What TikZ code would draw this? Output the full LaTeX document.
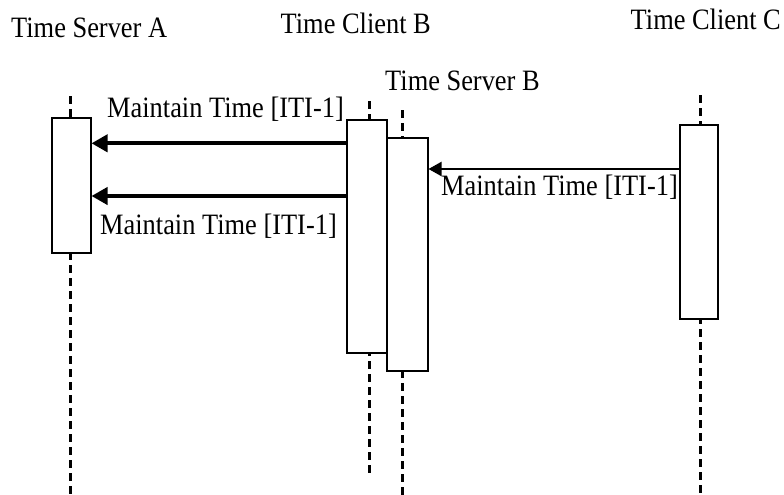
\documentclass[tikz,border=0pt]{standalone}
\usepackage{fontspec}
\setmainfont{Liberation Serif}
\usetikzlibrary{arrows.meta}
\newcommand{\lbltext}[1]{\scalebox{1}[1.12]{#1}}
\begin{document}
\begin{tikzpicture}[x=1pt,y=-1pt,
  lifeline/.style={line width=3pt,dash pattern=on 8pt off 5pt},
  actbox/.style={draw,line width=2pt,fill=white,inner sep=0pt,anchor=north west},
  lbl/.style={inner sep=0pt,anchor=base west,font=\fontsize{26.4}{30}\selectfont},
  thickmsg/.style={line width=3.8pt,-{Triangle[length=16pt,width=17pt]}},
  thinmsg/.style={line width=2pt,-{Triangle[length=13pt,width=14pt]}}]
\useasboundingbox (0,0) rectangle (784,495);
% titles
\node[lbl] (tsa) at (11,37.7) {\lbltext{Time Server A}};
\node[lbl] (tcb) at (280.5,33.3) {\lbltext{Time Client B}};
\node[lbl] (tsb) at (385,90) {\lbltext{Time Server B}};
\node[lbl] (tcc) at (630.5,29.3) {\lbltext{Time Client C}};
% lifeline coordinates
\coordinate (a1) at (70,96);   \coordinate (a2) at (70,495);
\coordinate (b1) at (369,101); \coordinate (b2) at (369,476);
\coordinate (s1) at (402.5,110); \coordinate (s2) at (402.5,495);
\coordinate (c1) at (700.5,95); \coordinate (c2) at (700.5,495);
\draw[lifeline] (a1) -- (a2);
\draw[lifeline] (b1) -- (b2);
\draw[lifeline] (s1) -- (s2);
\draw[lifeline] (c1) -- (c2);
% activation boxes
\node[actbox,minimum width=39pt,minimum height=135pt] (sa) at (50.5,117.3) {};
\node[actbox,minimum width=39.5pt,minimum height=233pt] (cb) at (346,119.3) {};
\node[actbox,minimum width=41pt,minimum height=233pt] (sb) at (385.5,137.3) {};
\node[actbox,minimum width=37.5pt,minimum height=194pt] (cc) at (679.3,124.3) {};
% message levels
\coordinate (m1) at (0,143.3);
\coordinate (m2) at (0,196);
\coordinate (m3) at (0,169);
\draw[thickmsg] (cb.west |- m1) -- (sa.east |- m1);
\draw[thickmsg] (cb.west |- m2) -- (sa.east |- m2);
\draw[thinmsg] (cc.west |- m3) -- (sb.east |- m3);
% labels
\node[lbl] (l1) at (107,117) {\lbltext{Maintain Time [ITI-1]}};
\node[lbl] (l2) at (100,234) {\lbltext{Maintain Time [ITI-1]}};
\node[lbl] (l3) at (441,195) {\lbltext{Maintain Time [ITI-1]}};
\end{tikzpicture}
\end{document}
